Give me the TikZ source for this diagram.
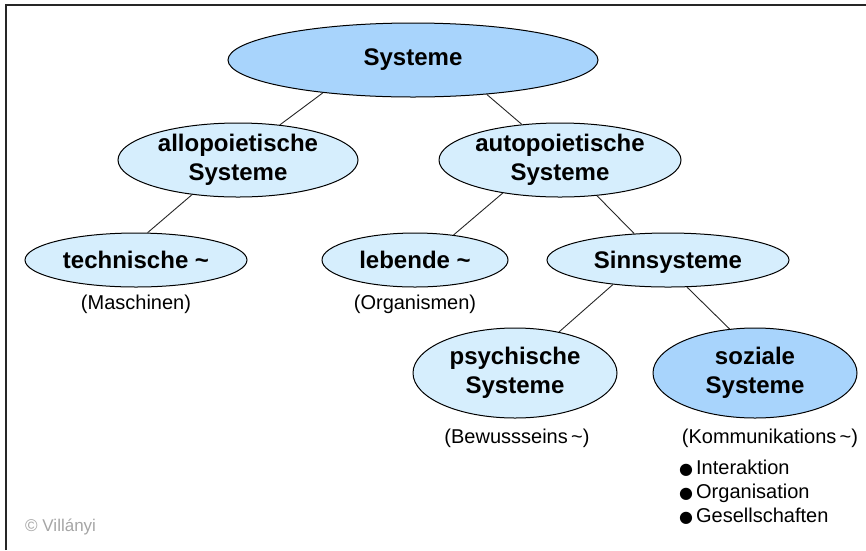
\documentclass[tikz,border=0pt]{standalone}
\usepackage{fontspec}
\setmainfont{Liberation Sans}
\newfontfamily\dejavu{DejaVu Sans}
\usetikzlibrary{shapes.geometric}
\definecolor{darkfill}{RGB}{168,212,252}
\definecolor{lightfill}{RGB}{214,238,253}
\definecolor{villgrey}{RGB}{165,165,165}
\newcommand{\mybul}{{\dejavu\fontsize{16}{18}\selectfont ●}\hspace{3pt}}
\tikzset{
  sysnode/.style={ellipse, draw=black, line width=1pt, inner sep=0pt, align=center,
    font=\fontsize{24}{28.5}\selectfont\bfseries},
  lightnode/.style={sysnode, fill=lightfill},
  darknode/.style={sysnode, fill=darkfill},
  note/.style={inner sep=0pt, font=\fontsize{20}{22}\selectfont},
  link/.style={draw=black!85, line width=0.9pt},
}
\begin{document}
\begin{tikzpicture}[x=1pt,y=-1pt]
\useasboundingbox (0,0) rectangle (866,550);
\draw[line width=2pt, black!85] (6,550) -- (6,5) -- (866,5);

\node[darknode, minimum width=370pt, minimum height=74pt] (sys) at (413,60) {Systeme};
\node[lightnode, minimum width=240pt, minimum height=74pt] (allo) at (238,160) {allopoietische\\Systeme};
\node[lightnode, minimum width=242pt, minimum height=74pt] (auto) at (560,160) {autopoietische\\Systeme};
\node[lightnode, minimum width=222pt, minimum height=54pt] (tech) at (136,260) {technische \char`\~};
\node[lightnode, minimum width=186pt, minimum height=54pt] (leb) at (415,260) {lebende \char`\~};
\node[lightnode, minimum width=242pt, minimum height=54pt, text depth=0pt] (sinn) at (668,260) {Sinnsysteme};
\node[lightnode, minimum width=204pt, minimum height=90pt] (psy) at (515,373) {psychische\\Systeme};
\node[darknode, minimum width=204pt, minimum height=90pt] (soz) at (755,373) {soziale\\Systeme};

\node[note] (masch) at (136,304) {(Maschinen)};
\node[note] (org) at (415,304) {(Organismen)};
\node[note] (bew) at (517,438) {(Bewussseins\,\char`\~)};
\node[note] (komm) at (770,438) {(Kommunikations\,\char`\~)};
\node[note, anchor=base west] (b1) at (679,474) {\mybul Interaktion};
\node[note, anchor=base west] (b2) at (679,498) {\mybul Organisation};
\node[note, anchor=base west] (b3) at (679,522) {\mybul Gesellschaften};
\node[inner sep=0pt, anchor=west, text=villgrey, font=\fontsize{17}{19}\selectfont] (vill) at (25,527) {\textcopyright\ Villányi};

\draw[link] (sys.200.2) -- (allo.40.2);
\draw[link] (sys.335.3) -- (auto.137.2);
\draw[link] (allo.217.3) -- (tech.67.8);
\draw[link] (auto.210.3) -- (leb.33.4);
\draw[link] (auto.316.6) -- (sinn.142.4);
\draw[link] (sinn.204) -- (psy.43.1);
\draw[link] (sinn.305) -- (soz.120.4);
\end{tikzpicture}
\end{document}
